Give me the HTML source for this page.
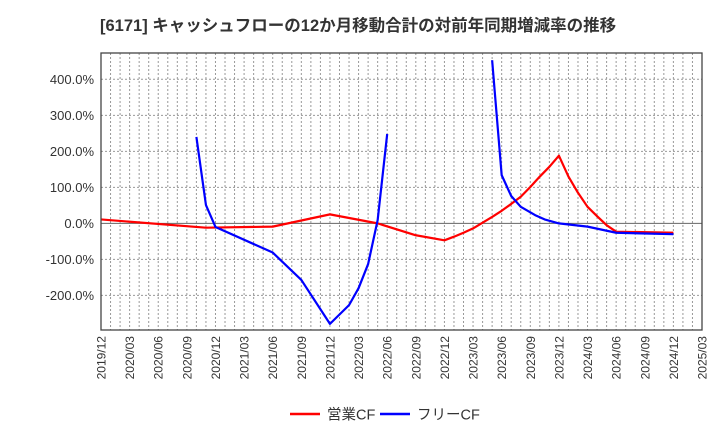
<!DOCTYPE html>
<html><head><meta charset="utf-8"><style>
body{margin:0;background:#fff;font-family:"Liberation Sans","Noto Sans CJK JP",sans-serif}
</style></head><body>
<svg width="720" height="440" xmlns="http://www.w3.org/2000/svg" font-family="Liberation Sans, Noto Sans CJK JP, sans-serif">
<text x="100" y="31" font-size="16.5" font-weight="bold" fill="#333">[6171]  キャッシュフローの12か月移動合計の対前年同期増減率の推移</text>
<g id="grid"></g>
<g id="series"></g>
<rect x="101" y="53" width="601" height="277" fill="none" stroke="#444" stroke-width="1.3"/>
<g id="labels"></g>
<g>
<line x1="290" y1="414" x2="320" y2="414" stroke="#f00" stroke-width="2.5"/>
<text x="327" y="419.5" font-size="14.5" fill="#333">営業CF</text>
<line x1="380" y1="414" x2="410" y2="414" stroke="#00f" stroke-width="2.5"/>
<text x="417" y="419.5" font-size="14.5" fill="#333">フリーCF</text>
</g>
</svg>
<script>
const yTicks=[400,300,200,100,0,-100,-200];
const xTickLabels=["2019/12","2020/03","2020/06","2020/09","2020/12","2021/03","2021/06","2021/09","2021/12","2022/03","2022/06","2022/09","2022/12","2023/03","2023/06","2023/09","2023/12","2024/03","2024/06","2024/09","2024/12","2025/03"];
const redMonths=[0,11,18,24,29,33,36,37,38,39,40,41,42,43,44,45,46,47,48,49,50,51,52,53,54,60];
const redValues=[11,-12,-9,25,0,-33,-47,-37,-26,-14,2,18,35,54,74,101,130,157,188,130,85,46,20,-5,-23,-26];
const blueMonths1=[10,11,12,18,21,24,26,27,28,29,30];
const blueValues1=[240,51,-10,-81,-157,-279,-227,-180,-113,9,248];
const blueMonths2=[41,42,43,44,45.5,46.5,48,51,54,60];
const blueValues2=[453,134,76,46,23,11,0,-9,-26,-30];
const L=101,R=702,T=53,B=330,yMax=473,yMin=-296,nM=63;
const X=m=>L+(R-L)*m/nM, Y=v=>T+(B-T)*(yMax-v)/(yMax-yMin);
const ns="http://www.w3.org/2000/svg";
function mk(t,a,p){const e=document.createElementNS(ns,t);for(const k in a)e.setAttribute(k,a[k]);p.appendChild(e);return e;}
const grid=document.getElementById('grid'),lab=document.getElementById('labels'),ser=document.getElementById('series');
for(let m=1;m<nM;m++){const g=mk('line',{x1:X(m),x2:X(m),y1:T,y2:B,stroke:'#999','stroke-dasharray':'2,2','stroke-width':1},grid);

}
yTicks.forEach(v=>{const g=mk('line',{x1:L,x2:R,y1:Y(v),y2:Y(v),stroke:v===0?'#666':'#999','stroke-dasharray':v===0?'':'2,2','stroke-width':1},grid);


const t=mk('text',{x:94,y:Y(v)+4.5,'font-size':13,'text-anchor':'end',fill:'#333'},lab);t.textContent=v.toFixed(1)+'%';

});
xTickLabels.forEach((s,i)=>{const x=X(i*3);const t=mk('text',{x:0,y:0,'font-size':12,'text-anchor':'end',fill:'#333',transform:`translate(${x+4.5},336) rotate(-90)`},lab);t.textContent=s;

});
function line(ms,vs,c,name){const p=mk('polyline',{points:ms.map((m,i)=>X(m)+','+Y(vs[i])).join(' '),fill:'none',stroke:c,'stroke-width':2.2,'stroke-linejoin':'round'},ser);

}
line(redMonths,redValues,'#f00','operating-cf-line');
line(blueMonths1,blueValues1,'#00f','free-cf-line-1');
line(blueMonths2,blueValues2,'#00f','free-cf-line-2');
</script>
</body></html>
